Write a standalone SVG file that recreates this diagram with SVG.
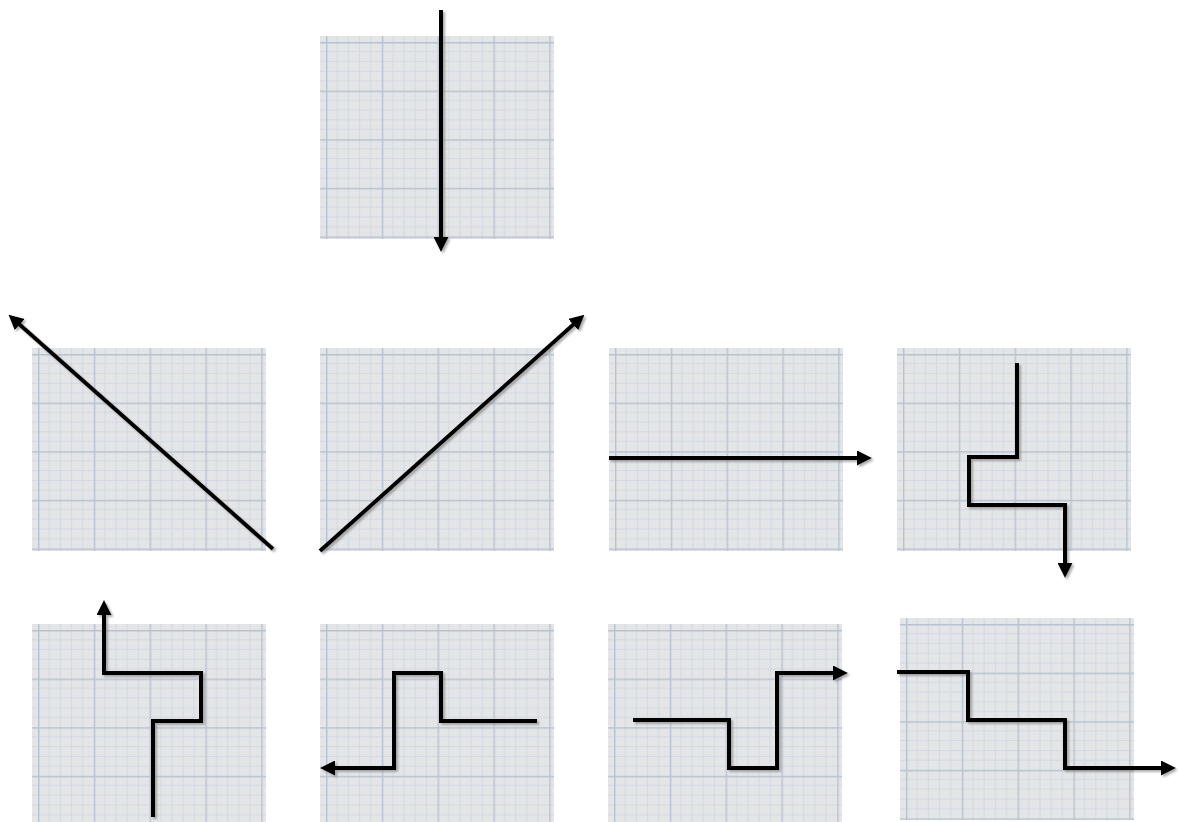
<svg xmlns="http://www.w3.org/2000/svg" width="1178" height="822" viewBox="0 0 1178 822">
  <defs>
    <pattern id="grid" patternUnits="userSpaceOnUse" width="55.8" height="48.6" x="6" y="6">
      <rect width="55.8" height="48.6" fill="#e4e5e7"/>
      <g stroke="#d2d9e2" stroke-width="1" fill="none">
        <path d="M11.16 0V48.6M22.32 0V48.6M33.48 0V48.6M44.64 0V48.6"/>
        <path d="M0 9.72H55.8M0 19.44H55.8M0 29.16H55.8M0 38.88H55.8"/>
      </g>
      <g stroke="#b8c3d1" stroke-width="1.4" fill="none">
        <path d="M0.7 0V48.6M0 0.7H55.8"/>
      </g>
    </pattern>
    <marker id="arr" viewBox="0 0 15 15" refX="1" refY="7.5" markerWidth="15" markerHeight="15" markerUnits="userSpaceOnUse" orient="auto">
      <path d="M0 0L15 7.5L0 15z" fill="#000"/>
    </marker>
    <filter id="sh" filterUnits="userSpaceOnUse" x="0" y="0" width="1178" height="822">
      <feDropShadow dx="2" dy="2" stdDeviation="1" flood-color="#777" flood-opacity="0.6"/>
    </filter>
  </defs>
  <style>
    .panel { fill: url(#grid); }
    .c { fill: none; stroke: #000; stroke-width: 4; stroke-linejoin: miter; marker-end: url(#arr); filter: url(#sh); }
  </style>
  <rect width="1178" height="822" fill="#fff"/>
  <g id="panel-top" transform="translate(320,36)"><rect class="panel" width="234" height="203"/></g>
  <g id="panel-r2c1" transform="translate(32,348)"><rect class="panel" width="234" height="203"/></g>
  <g id="panel-r2c2" transform="translate(320,348)"><rect class="panel" width="234" height="203"/></g>
  <g id="panel-r2c3" transform="translate(609,348)"><rect class="panel" width="234" height="203"/></g>
  <g id="panel-r2c4" transform="translate(897,348)"><rect class="panel" width="234" height="203"/></g>
  <g id="panel-r3c1" transform="translate(32,624)"><rect class="panel" width="234" height="198"/></g>
  <g id="panel-r3c2" transform="translate(320,624)"><rect class="panel" width="234" height="198"/></g>
  <g id="panel-r3c3" transform="translate(608,624)"><rect class="panel" width="234" height="198"/></g>
  <g id="panel-r3c4" transform="translate(900,618)"><rect class="panel" width="234" height="202"/></g>
  <g id="connectors">
    <path class="c" d="M441 10V238"/>
    <path class="c" d="M273 549L19 324"/>
    <path class="c" d="M320 551L574 324"/>
    <path class="c" d="M609 458H858"/>
    <path class="c" d="M1017 363V457H969V505H1065V564"/>
    <path class="c" d="M153 817V721H201V673H104V614"/>
    <path class="c" d="M537 721H441V673H394V768H334"/>
    <path class="c" d="M633 720H729V768H777V673H834"/>
    <path class="c" d="M897 672H968V720H1065V768H1162"/>
  </g>
</svg>
